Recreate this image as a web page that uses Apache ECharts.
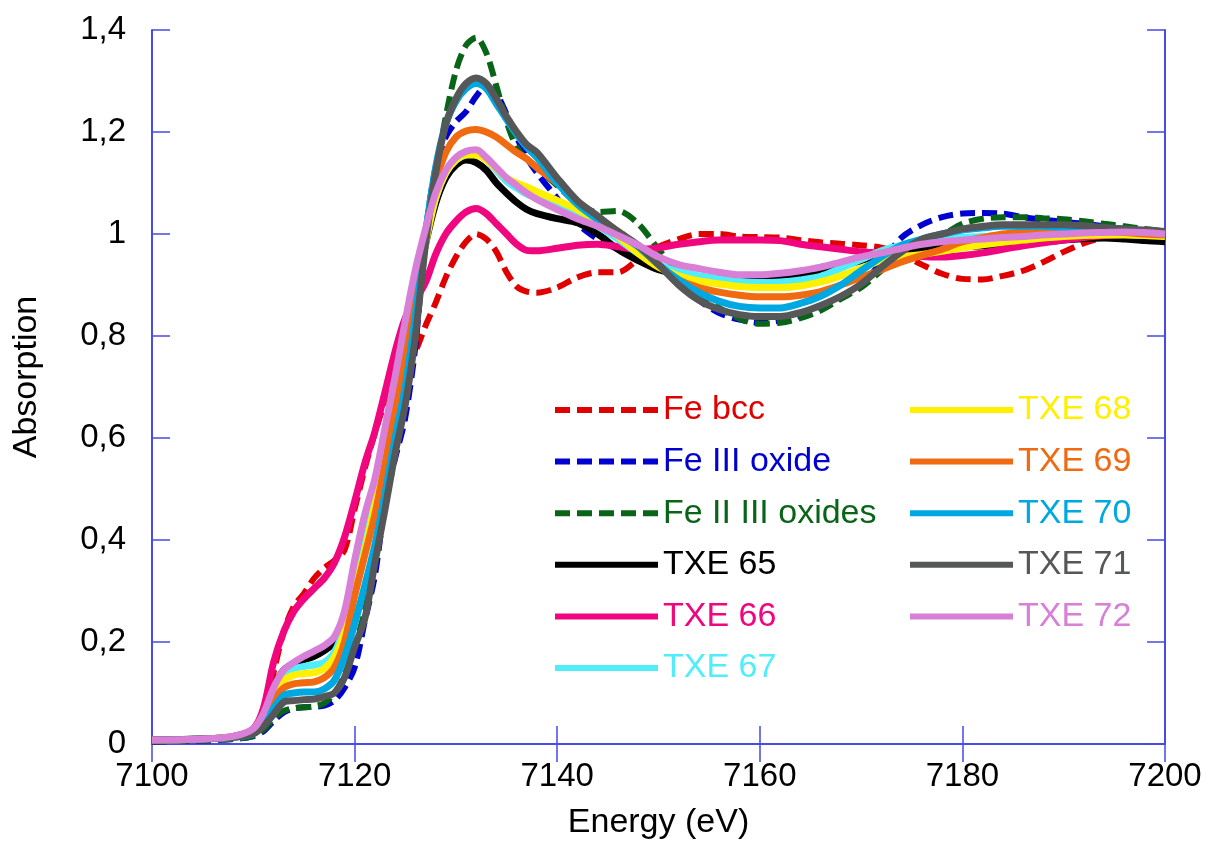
<!DOCTYPE html>
<html>
<head>
<meta charset="utf-8">
<script src="https://cdn.jsdelivr.net/npm/echarts@6/dist/echarts.min.js"></script>
<style>
  html, body { margin: 0; padding: 0; background: #fff; }
  #chart { width: 1205px; height: 845px; }
</style>
</head>
<body>
<div id="chart"></div>
<script>
// energy grid (eV)
const energy = [7100, 7105, 7108, 7110, 7111, 7112, 7113, 7114, 7115, 7116, 7117, 7118, 7119, 7120,
  7121, 7122, 7123, 7124, 7125, 7126, 7127, 7128, 7129, 7130, 7131, 7132, 7133, 7134, 7135, 7136,
  7137, 7138, 7140, 7142, 7144, 7146, 7148, 7150, 7152, 7154, 7156, 7158, 7160, 7162, 7164, 7166,
  7168, 7170, 7172, 7174, 7176, 7178, 7180, 7182, 7184, 7186, 7188, 7190, 7192, 7194, 7196, 7198, 7200];

const feBcc = [0.005, 0.008, 0.012, 0.025, 0.05, 0.14, 0.22, 0.27, 0.295, 0.325, 0.345, 0.36, 0.38, 0.46,
  0.54, 0.61, 0.67, 0.71, 0.735, 0.77, 0.82, 0.865, 0.915, 0.955, 0.985, 1.0, 0.99, 0.965, 0.925, 0.897,
  0.887, 0.885, 0.895, 0.915, 0.925, 0.925, 0.95, 0.975, 0.99, 1.0, 1.0, 0.995, 0.994, 0.993, 0.988, 0.984,
  0.981, 0.978, 0.973, 0.96, 0.94, 0.922, 0.912, 0.911, 0.918, 0.928, 0.945, 0.965, 0.982, 0.993, 0.998, 0.995, 0.985];

const fe3Oxide = [0.005, 0.007, 0.01, 0.015, 0.025, 0.045, 0.062, 0.07, 0.072, 0.073, 0.075, 0.085, 0.11, 0.15,
  0.24, 0.33, 0.47, 0.56, 0.64, 0.78, 1.0, 1.13, 1.19, 1.22, 1.24, 1.27, 1.29, 1.275, 1.235, 1.19,
  1.15, 1.12, 1.07, 1.02, 0.99, 0.97, 0.955, 0.94, 0.905, 0.87, 0.845, 0.832, 0.826, 0.83, 0.84, 0.857,
  0.875, 0.9, 0.945, 0.993, 1.018, 1.033, 1.04, 1.041, 1.04, 1.033, 1.028, 1.024, 1.02, 1.015, 1.01, 1.005, 1.0];

const fe23Oxides = [0.005, 0.007, 0.01, 0.016, 0.028, 0.05, 0.065, 0.07, 0.072, 0.074, 0.08, 0.1, 0.135, 0.19,
  0.26, 0.36, 0.47, 0.59, 0.7, 0.82, 0.98, 1.12, 1.23, 1.32, 1.37, 1.385, 1.355, 1.29, 1.22, 1.17,
  1.145, 1.13, 1.095, 1.06, 1.043, 1.045, 1.02, 0.97, 0.925, 0.885, 0.855, 0.834, 0.824, 0.826, 0.835, 0.85,
  0.873, 0.895, 0.928, 0.96, 0.982, 0.998, 1.02, 1.03, 1.033, 1.033, 1.031, 1.029, 1.025, 1.02, 1.015, 1.01, 1.005];

const txe65 = [0.008, 0.01, 0.014, 0.026, 0.055, 0.11, 0.145, 0.158, 0.165, 0.172, 0.183, 0.2, 0.245, 0.32,
  0.39, 0.48, 0.57, 0.67, 0.77, 0.88, 0.98, 1.06, 1.11, 1.135, 1.145, 1.14, 1.125, 1.1, 1.08, 1.062,
  1.048, 1.04, 1.03, 1.022, 1.0, 0.97, 0.948, 0.93, 0.922, 0.916, 0.912, 0.91, 0.91, 0.912, 0.916, 0.925,
  0.937, 0.948, 0.958, 0.965, 0.97, 0.972, 0.975, 0.977, 0.98, 0.982, 0.985, 0.988, 0.991, 0.992, 0.99, 0.987, 0.985];

const txe66 = [0.008, 0.01, 0.015, 0.03, 0.07, 0.16, 0.22, 0.26, 0.285, 0.305, 0.325, 0.355, 0.405, 0.475,
  0.55, 0.612, 0.69, 0.77, 0.835, 0.87, 0.905, 0.96, 1.0, 1.025, 1.043, 1.05, 1.04, 1.02, 1.0, 0.98,
  0.968, 0.967, 0.972, 0.978, 0.98, 0.975, 0.97, 0.973, 0.98, 0.985, 0.988, 0.988, 0.988, 0.987, 0.98, 0.975,
  0.97, 0.965, 0.962, 0.96, 0.956, 0.955, 0.958, 0.963, 0.97, 0.977, 0.983, 0.988, 0.993, 0.997, 0.999, 1.0, 1.0];

const txe67 = [0.008, 0.01, 0.014, 0.025, 0.05, 0.1, 0.135, 0.148, 0.152, 0.155, 0.16, 0.18, 0.23, 0.31,
  0.39, 0.48, 0.57, 0.67, 0.77, 0.88, 0.99, 1.07, 1.12, 1.145, 1.155, 1.158, 1.145, 1.125, 1.103, 1.09,
  1.078, 1.07, 1.055, 1.038, 1.015, 0.99, 0.962, 0.94, 0.926, 0.918, 0.912, 0.907, 0.905, 0.906, 0.91, 0.917,
  0.933, 0.95, 0.967, 0.978, 0.985, 0.99, 0.993, 0.995, 0.997, 0.998, 0.999, 1.0, 1.0, 1.0, 0.999, 0.998, 0.997];

const txe68 = [0.008, 0.01, 0.014, 0.024, 0.05, 0.1, 0.125, 0.135, 0.138, 0.14, 0.148, 0.17, 0.22, 0.3,
  0.38, 0.47, 0.56, 0.66, 0.76, 0.87, 0.98, 1.07, 1.12, 1.145, 1.155, 1.155, 1.145, 1.128, 1.11, 1.1,
  1.092, 1.083, 1.066, 1.048, 1.025, 0.995, 0.962, 0.935, 0.918, 0.908, 0.902, 0.897, 0.895, 0.895, 0.898, 0.906,
  0.918, 0.933, 0.948, 0.955, 0.96, 0.966, 0.973, 0.979, 0.984, 0.988, 0.992, 0.995, 0.997, 0.998, 0.998, 0.997, 0.995];

const txe69 = [0.008, 0.01, 0.013, 0.022, 0.045, 0.085, 0.11, 0.118, 0.12, 0.122, 0.13, 0.15, 0.2, 0.29,
  0.37, 0.45, 0.55, 0.66, 0.76, 0.88, 1.0, 1.1, 1.16, 1.19, 1.202, 1.205, 1.2, 1.19, 1.175, 1.16,
  1.147, 1.13, 1.1, 1.063, 1.033, 1.005, 0.975, 0.94, 0.91, 0.895, 0.886, 0.88, 0.877, 0.877, 0.88, 0.887,
  0.9, 0.915, 0.93, 0.945, 0.958, 0.97, 0.985, 0.993, 1.0, 1.004, 1.007, 1.008, 1.007, 1.005, 1.003, 1.0, 0.998];

const txe70 = [0.008, 0.01, 0.013, 0.02, 0.04, 0.07, 0.095, 0.1, 0.102, 0.102, 0.108, 0.125, 0.17, 0.235,
  0.31, 0.39, 0.49, 0.6, 0.7, 0.84, 1.0, 1.13, 1.215, 1.26, 1.285, 1.295, 1.285, 1.255, 1.225, 1.195,
  1.17, 1.15, 1.1, 1.058, 1.028, 1.0, 0.975, 0.94, 0.91, 0.885, 0.868, 0.858, 0.855, 0.855, 0.864, 0.878,
  0.9, 0.928, 0.955, 0.978, 0.99, 1.0, 1.008, 1.012, 1.015, 1.015, 1.015, 1.013, 1.012, 1.01, 1.007, 1.005, 1.0];

const txe71 = [0.008, 0.01, 0.013, 0.02, 0.035, 0.058, 0.082, 0.085, 0.087, 0.088, 0.093, 0.1, 0.13, 0.19,
  0.245, 0.355, 0.46, 0.57, 0.665, 0.8, 0.98, 1.12, 1.215, 1.265, 1.295, 1.306, 1.295, 1.265, 1.23, 1.2,
  1.175, 1.16, 1.11, 1.065, 1.035, 1.005, 0.978, 0.94, 0.9, 0.87, 0.852, 0.842, 0.838, 0.838, 0.846, 0.86,
  0.878, 0.902, 0.935, 0.965, 0.99, 1.0, 1.01, 1.015, 1.018, 1.018, 1.018, 1.018, 1.016, 1.013, 1.01, 1.008, 1.005];

const txe72 = [0.008, 0.01, 0.015, 0.03, 0.06, 0.11, 0.145, 0.16, 0.172, 0.182, 0.193, 0.21, 0.26, 0.36,
  0.45, 0.52, 0.62, 0.72, 0.83, 0.93, 1.01, 1.08, 1.125, 1.15, 1.162, 1.165, 1.15, 1.13, 1.11, 1.095,
  1.08, 1.068, 1.048, 1.03, 1.015, 0.997, 0.978, 0.955, 0.94, 0.932, 0.925, 0.92, 0.92, 0.923, 0.928, 0.935,
  0.945, 0.955, 0.963, 0.972, 0.98, 0.985, 0.988, 0.99, 0.993, 0.995, 0.998, 1.0, 1.002, 1.003, 1.004, 1.003, 1.0];

const seriesDefs = [
  { name: 'Fe bcc', data: feBcc, color: '#e00000', dashed: true },
  { name: 'Fe III oxide', data: fe3Oxide, color: '#0000d0', dashed: true },
  { name: 'Fe II III oxides', data: fe23Oxides, color: '#0a6418', dashed: true },
  { name: 'TXE 65', data: txe65, color: '#000000' },
  { name: 'TXE 66', data: txe66, color: '#f0067e' },
  { name: 'TXE 67', data: txe67, color: '#50eefa' },
  { name: 'TXE 68', data: txe68, color: '#fff000' },
  { name: 'TXE 69', data: txe69, color: '#f06a12' },
  { name: 'TXE 70', data: txe70, color: '#00a8e2' },
  { name: 'TXE 71', data: txe71, color: '#555759' },
  { name: 'TXE 72', data: txe72, color: '#d880d8' }
];

const FONT = 'Liberation Sans, Arial, sans-serif';
const axisBlue = '#4a4ae6';

const legendText = { fontSize: 34, lineHeight: 34, fontFamily: FONT };
function legendItems(defs) {
  return defs.map(d => ({ name: d.name, textStyle: { color: d.color } }));
}
const legendBase = {
  orient: 'vertical', top: 393, padding: 0,
  itemWidth: 103, itemHeight: 8, itemGap: 17.6,
  textStyle: legendText, selectedMode: false,
  itemStyle: { opacity: 0 },
  lineStyle: { width: 6 }
};

let myChart = echarts.init(document.getElementById('chart'));
myChart.setOption({
  animation: false,
  backgroundColor: '#fff',
  grid: { left: 152, right: 40, top: 30, bottom: 98 },
  legend: [
    Object.assign({}, legendBase, { left: 552, data: legendItems(seriesDefs.slice(0, 6)) }),
    Object.assign({}, legendBase, { left: 907, data: legendItems(seriesDefs.slice(6)) })
  ],
  xAxis: [
    {
      type: 'value', min: 7100, max: 7200, interval: 20,
      name: 'Energy (eV)', nameLocation: 'middle', nameGap: 62,
      nameTextStyle: { fontSize: 34, fontFamily: FONT, color: '#000' },
      axisLine: { lineStyle: { color: axisBlue, width: 2 } },
      axisTick: { inside: true, length: 18, lineStyle: { color: axisBlue, width: 1.5 } },
      axisLabel: { fontSize: 33, fontFamily: FONT, color: '#000', margin: 16, formatter: v => String(v) },
      splitLine: { show: false }
    },
    {
      type: 'value', min: 7100, max: 7200, interval: 20, position: 'top',
      axisLine: { show: true, lineStyle: { color: axisBlue, width: 2 } },
      axisTick: { inside: true, length: 18, lineStyle: { color: axisBlue, width: 1.5 } },
      axisLabel: { show: false },
      splitLine: { show: false }
    }
  ],
  yAxis: [
    {
      type: 'value', min: 0, max: 1.4, interval: 0.2,
      name: 'Absorption', nameLocation: 'middle', nameGap: 108,
      nameTextStyle: { fontSize: 34, fontFamily: FONT, color: '#000', padding: [0, 0, 0, 20] },
      axisLine: { show: true, lineStyle: { color: axisBlue, width: 2 } },
      axisTick: { show: true, inside: true, length: 18, lineStyle: { color: axisBlue, width: 1.5 } },
      axisLabel: {
        fontSize: 33, fontFamily: FONT, color: '#000', margin: 26,
        formatter: v => String(Math.round(v * 10) / 10).replace('.', ',')
      },
      splitLine: { show: false }
    },
    {
      type: 'value', min: 0, max: 1.4, interval: 0.2, position: 'right',
      axisLine: { show: true, lineStyle: { color: axisBlue, width: 2 } },
      axisTick: { show: true, inside: true, length: 18, lineStyle: { color: axisBlue, width: 1.5 } },
      axisLabel: { show: false },
      splitLine: { show: false }
    }
  ],
  series: seriesDefs.map(d => ({
    name: d.name,
    type: 'line',
    symbol: 'none',
    smooth: 0.3,
    data: energy.map((e, i) => [e, d.data[i]]),
    lineStyle: d.dashed
      ? { color: d.color, width: 6, type: [15, 7] }
      : { color: d.color, width: 7 },
    itemStyle: { color: d.color }
  }))
});
window.onresize = function () {
  myChart.resize();
};
</script>
</body>
</html>
